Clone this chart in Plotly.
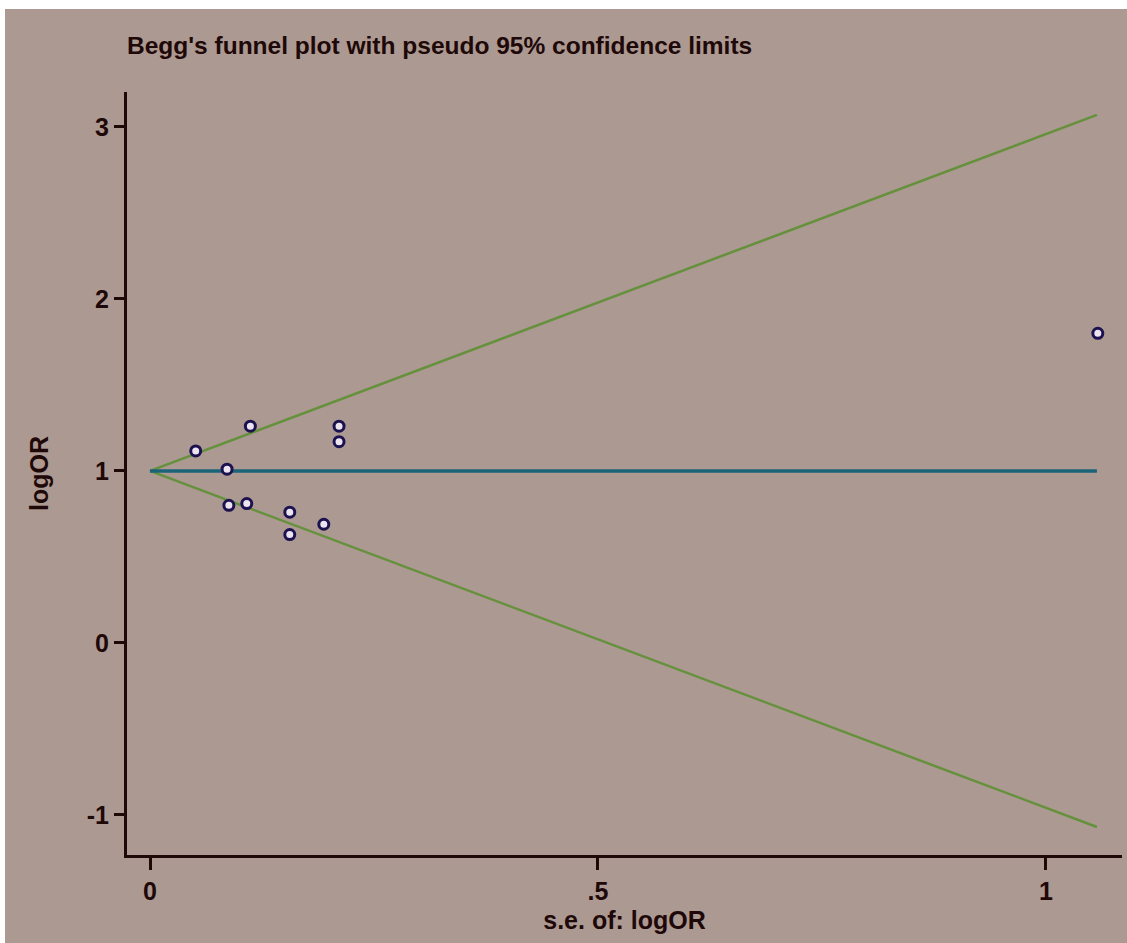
import plotly.graph_objects as go

# Study estimates: standard error and log odds ratio
study_se = [0.051, 0.112, 0.086, 0.088, 0.108, 0.156, 0.156, 0.194, 0.211, 0.211, 1.058]
study_logor = [1.116, 1.26, 1.01, 0.80, 0.81, 0.76, 0.63, 0.69, 1.26, 1.17, 1.80]

# Pooled estimate line and pseudo 95% confidence limits (end points)
limit_se = [0.0, 1.057]
pooled = [1.0, 1.0]
upper_limit = [1.0, 3.07]
lower_limit = [1.0, -1.07]

x_ticks = [0, 0.5, 1]
x_tick_labels = ["0", ".5", "1"]
y_ticks = [-1, 0, 1, 2, 3]
y_tick_labels = ["-1", "0", "1", "2", "3"]

bg = "#ac9992"
ink = "#1e0808"
font_family = "Liberation Sans Narrow, Liberation Sans, Arial, sans-serif"

fig = go.Figure()

fig.add_trace(go.Scatter(x=limit_se, y=upper_limit, mode="lines",
                         line=dict(color="#66913c", width=2.5), hoverinfo="skip"))
fig.add_trace(go.Scatter(x=limit_se, y=lower_limit, mode="lines",
                         line=dict(color="#66913c", width=2.5), hoverinfo="skip"))
fig.add_trace(go.Scatter(x=limit_se, y=pooled, mode="lines",
                         line=dict(color="#1b6478", width=3.5), hoverinfo="skip"))
fig.add_trace(go.Scatter(x=study_se, y=study_logor, mode="markers",
                         marker=dict(symbol="circle", size=10, color="#ece4ee",
                                     line=dict(color="#1c1250", width=3))))

fig.update_layout(
    width=1127, height=943,
    paper_bgcolor=bg, plot_bgcolor=bg,
    showlegend=False,
    margin=dict(l=127, r=5, t=92, b=88),
    font=dict(family=font_family, color=ink),
    title=dict(text="<b>Begg's funnel plot with pseudo 95% confidence limits</b>",
               x=127 / 1127, xanchor="left", y=1 - 45 / 943, yanchor="middle",
               font=dict(size=24.5, color=ink, family=font_family)),
    shapes=[dict(type="rect", xref="paper", yref="paper",
                 x0=-0.2, x1=1.1, y0=1 + 83 / 763, y1=1 + 100 / 763,
                 fillcolor="white", line=dict(width=0), layer="below"),
            dict(type="rect", xref="paper", yref="paper",
                 x0=-127 / 995, x1=-122 / 995, y0=-0.2, y1=1.2,
                 fillcolor="white", line=dict(width=0), layer="below")],
)

fig.update_xaxes(
    range=[-0.0257, 1.085],
    tickvals=x_ticks, ticktext=["<b>%s</b>" % t for t in x_tick_labels],
    showgrid=False, zeroline=False,
    showline=True, linecolor=ink, linewidth=3,
    ticks="outside", ticklen=12, tickwidth=3, tickcolor=ink,
    tickfont=dict(size=25, color=ink, family=font_family),
    title=dict(text="<b>s.e. of: logOR</b>", standoff=8,
               font=dict(size=25, color=ink, family=font_family)),
)
fig.update_yaxes(
    range=[-1.233, 3.203],
    tickvals=y_ticks, ticktext=["<b>%s</b>" % t for t in y_tick_labels],
    showgrid=False, zeroline=False,
    showline=True, linecolor=ink, linewidth=3,
    ticks="outside", ticklen=10, tickwidth=3, tickcolor=ink,
    tickfont=dict(size=25, color=ink, family=font_family),
    title=dict(text="<b>logOR</b>", standoff=32,
               font=dict(size=25, color=ink, family=font_family)),
)

fig.write_html("out.html")
